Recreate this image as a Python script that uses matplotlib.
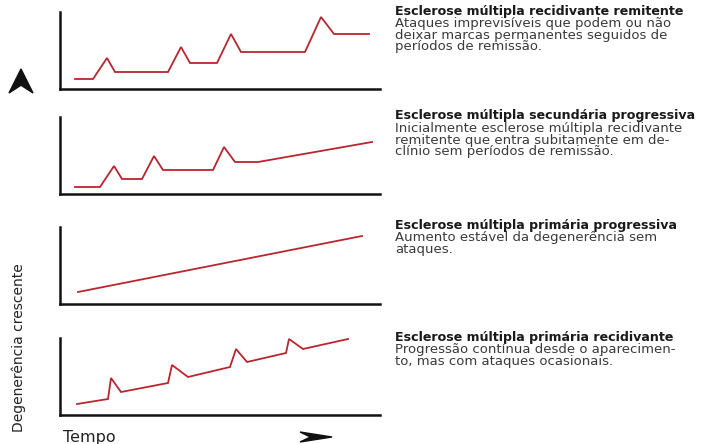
import matplotlib.pyplot as plt
from matplotlib.patches import Polygon
from matplotlib.transforms import Affine2D

# tempo / nivel de degenerencia (unidades arbitrarias)
rr_t = [15, 33, 47, 55, 108, 121, 130, 157, 171, 181, 245, 261, 274, 309]
rr_v = [10, 10, 31, 17, 17, 42, 26, 26, 55, 37, 37, 72, 55, 55]

sp_t = [15, 40, 54, 62, 82, 94, 103, 153, 164, 175, 198, 312]
sp_v = [7, 7, 28, 15, 15, 38, 24, 24, 47, 32, 32, 52]

pp_t = [18, 302]
pp_v = [12, 68]

pr_t = [17, 48, 51, 61, 108, 112, 128, 170, 176, 187, 226, 229, 243, 288]
pr_v = [11, 16, 37, 23, 32, 50, 38, 48, 66, 53, 62, 76, 66, 76]

titulos = ["Esclerose múltipla recidivante remitente",
           "Esclerose múltipla secundária progressiva",
           "Esclerose múltipla primária progressiva",
           "Esclerose múltipla primária recidivante"]
descricoes = ["Ataques imprevisíveis que podem ou não\n"
              "deixar marcas permanentes seguidos de\n"
              "períodos de remissão.",
              "Inicialmente esclerose múltipla recidivante\n"
              "remitente que entra subitamente em de-\n"
              "clínio sem períodos de remissão.",
              "Aumento estável da degenerência sem\n"
              "ataques.",
              "Progressão contínua desde o aparecimen-\n"
              "to, mas com ataques ocasionais."]

series = [(rr_t, rr_v), (sp_t, sp_v), (pp_t, pp_v), (pr_t, pr_v)]

W, H = 703, 444
fig = plt.figure(figsize=(W / 100, H / 100), dpi=100)

# base (px) de cada painel e posicao dos textos
bases = [89, 194, 304, 415]
tit_y = [11, 116, 225, 337]
red = "#b8262f"

for i, (t, v) in enumerate(series):
    ax = fig.add_axes([60 / W, 1 - bases[i] / H, 320 / W, 77 / H])
    ax.plot(t, v, color=red, lw=1.3, solid_joinstyle='miter')
    ax.set_xlim(0, 320)
    ax.set_ylim(0, 77)
    for s in ['top', 'right']:
        ax.spines[s].set_visible(False)
    for s in ['left', 'bottom']:
        ax.spines[s].set_linewidth(1.8)
        ax.spines[s].set_color('#111111')
    ax.set_xticks([])
    ax.set_yticks([])
    ax.patch.set_alpha(0)

    fig.text(395 / W, 1 - tit_y[i] / H, titulos[i], fontsize=9.1,
             fontweight='bold', family='DejaVu Sans', color='#1a1a1a',
             va='center', ha='left')
    fig.text(395 / W, 1 - (tit_y[i] + 6) / H, descricoes[i], fontsize=9.5,
             family='DejaVu Sans', color='#3a3a3a', va='top', ha='left',
             linespacing=0.86)

fig.text(19 / W, 1 - 348 / H, "Degenerência crescente", rotation=90,
         fontsize=10, family='DejaVu Sans',
         color='#222222', ha='center', va='center')
fig.text(63 / W, 1 - 437 / H, "Tempo", fontsize=11.5, family='DejaVu Sans',
         color='#222222', ha='left', va='center')

# setas (ponta de seta em coordenadas unitarias)
ponta = [(1, 0), (-1, 1), (-0.35, 0), (-1, -1)]


def seta(cx, cy, sx, sy, ang):
    tr = (Affine2D().rotate_deg(ang).scale(sx, sy)
          .translate(cx, H - cy))
    fig.add_artist(Polygon(ponta, closed=True, color='#111111',
                           transform=tr))


seta(21, 81, 12, 12, 90)
seta(316, 437, 16, 5, 0)

fig.savefig("out.png", dpi=100)
